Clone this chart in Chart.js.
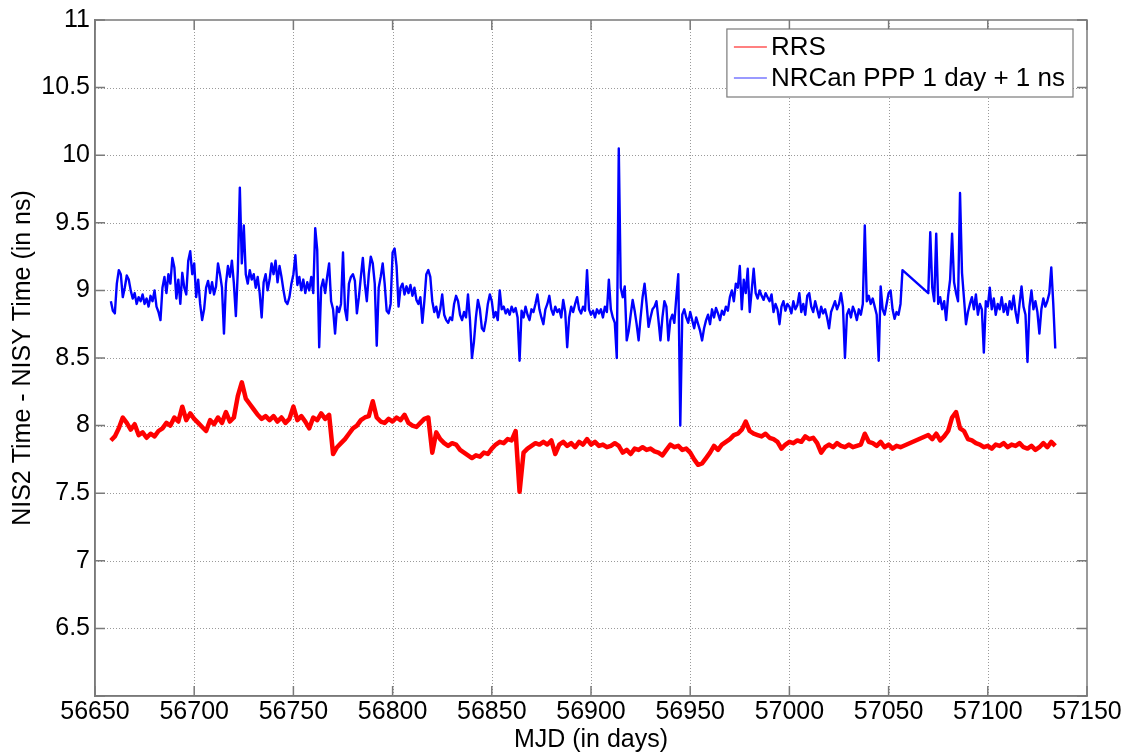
<!DOCTYPE html>
<html>
<head>
<meta charset="utf-8">
<script src="https://cdn.jsdelivr.net/npm/chart.js@4"></script>
<style>
  html, body { margin: 0; padding: 0; background: #fff; }
</style>
</head>
<body>
<canvas id="mjdChart" width="1131" height="756"></canvas>
<script>
/* NIS2 - NISY time comparison, RRS vs NRCan PPP */

const seriesNames = ['RRS', 'NRCan PPP 1 day + 1 ns'];
const xTitle = 'MJD (in days)';
const yTitle = 'NIS2 Time - NISY Time (in ns)';

// RRS: one value every 2 days, two stretches (data gap 57057 -> 57070)
const rrsStartA = 56658;
const rrsA = [
  7.89, 7.92, 7.98, 8.06, 8.02, 7.97, 8.01, 7.93, 7.95, 7.91,
  7.94, 7.92, 7.96, 7.98, 8.02, 8.00, 8.06, 8.03, 8.14, 8.04,
  8.09, 8.05, 8.02, 7.99, 7.96, 8.04, 8.01, 8.06, 8.02, 8.10,
  8.03, 8.06, 8.22, 8.32, 8.20, 8.16, 8.12, 8.08, 8.05, 8.07,
  8.04, 8.07, 8.03, 8.06, 8.02, 8.05, 8.14, 8.04, 8.07, 8.03,
  7.98, 8.06, 8.04, 8.09, 8.05, 8.08, 7.79, 7.84, 7.87, 7.90,
  7.94, 7.98, 8.00, 8.04, 8.06, 8.07, 8.18, 8.06, 8.03, 8.02,
  8.05, 8.03, 8.06, 8.04, 8.08, 8.02, 8.00, 7.99, 8.02, 8.05,
  8.06, 7.80, 7.95, 7.90, 7.87, 7.85, 7.87, 7.86, 7.82, 7.80,
  7.78, 7.76, 7.78, 7.77, 7.80, 7.79, 7.83, 7.86, 7.88, 7.87,
  7.90, 7.89, 7.96, 7.51, 7.80, 7.83, 7.85, 7.87, 7.86, 7.88,
  7.86, 7.89, 7.79, 7.86, 7.88, 7.85, 7.87, 7.84, 7.88, 7.86,
  7.90, 7.86, 7.88, 7.85, 7.86, 7.84, 7.85, 7.87, 7.85, 7.80,
  7.82, 7.79, 7.83, 7.82, 7.84, 7.82, 7.83, 7.81, 7.80, 7.78,
  7.82, 7.86, 7.84, 7.85, 7.82, 7.83, 7.80, 7.75, 7.71, 7.72,
  7.76, 7.80, 7.85, 7.82, 7.86, 7.88, 7.90, 7.93, 7.94, 7.97,
  8.03, 7.96, 7.94, 7.93, 7.92, 7.94, 7.91, 7.90, 7.88, 7.83,
  7.86, 7.88, 7.87, 7.89, 7.88, 7.92, 7.90, 7.91, 7.87, 7.80,
  7.84, 7.86, 7.84, 7.87, 7.85, 7.84, 7.86, 7.84, 7.85, 7.86,
  7.94, 7.88, 7.87, 7.85, 7.88, 7.84, 7.86, 7.83, 7.85, 7.84
];
const rrsStartB = 57070;
const rrsB = [
  7.93, 7.90, 7.94, 7.89, 7.92, 7.96, 8.06, 8.10, 7.98, 7.96,
  7.90, 7.89, 7.87, 7.86, 7.84, 7.85, 7.83, 7.86, 7.85, 7.87,
  7.84, 7.86, 7.85, 7.87, 7.84, 7.83, 7.85, 7.82, 7.84, 7.87,
  7.84, 7.88, 7.85
];

// NRCan PPP (+1 ns): one value per day, two stretches
const pppStartA = 56658;
const pppA = [
  8.92, 8.85, 8.83, 9.05, 9.15, 9.12, 8.95, 9.02, 9.11, 9.08,
  9.00, 8.94, 8.98, 8.90, 8.95, 8.92, 8.97, 8.90, 8.94, 8.88,
  8.96, 8.92, 9.00, 8.88, 8.84, 8.78, 9.02, 9.10, 8.98, 9.12,
  9.05, 9.24, 9.17, 8.94, 9.08, 8.90, 9.13, 9.02, 8.97, 9.22,
  9.29, 9.12, 9.20, 8.95, 9.08, 8.90, 8.78, 8.86, 9.02, 9.07,
  8.98, 9.06, 8.97, 9.03, 9.20, 9.12, 9.02, 8.68, 9.05, 9.18,
  9.10, 9.22, 9.05, 8.81, 9.15, 9.76, 9.20, 9.48, 9.12, 9.05,
  9.15, 9.08, 9.12, 9.02, 9.10, 8.98, 8.80, 9.06, 9.12, 9.00,
  9.08, 9.20, 9.12, 9.22, 9.06, 9.18, 9.10, 9.00, 8.92, 8.90,
  8.95, 9.05, 9.12, 9.26, 9.04, 9.10, 9.00, 9.08, 8.98, 9.06,
  9.00, 9.10, 8.98, 9.46, 9.30, 8.58, 9.02, 9.08, 8.98, 9.10,
  9.20, 8.92, 8.86, 8.68, 8.88, 8.84, 8.90, 9.28, 8.86, 8.78,
  9.05, 9.10, 9.12, 9.07, 8.83, 8.95, 9.10, 9.24, 9.05, 8.92,
  9.12, 9.25, 9.20, 9.05, 8.59, 9.02, 9.10, 9.20, 9.05, 8.85,
  8.83, 8.90, 9.28, 9.31, 9.18, 8.88, 9.02, 9.05, 8.97, 9.03,
  8.98, 9.04, 8.96, 9.02, 8.93, 8.90, 8.95, 8.76, 8.92, 9.12,
  9.15, 9.10, 8.92, 8.84, 8.88, 8.80, 8.86, 8.97, 8.82, 8.78,
  8.76, 8.80, 8.78, 8.90, 8.96, 8.92, 8.82, 8.78, 8.84, 8.80,
  8.97, 8.78, 8.50, 8.62, 8.80, 8.93, 8.86, 8.72, 8.70, 8.78,
  8.90, 8.97, 8.92, 8.80, 8.84, 8.78, 9.00, 8.86, 8.88, 8.83,
  8.86, 8.82, 8.88, 8.84, 8.87, 8.80, 8.48, 8.85, 8.80, 8.88,
  8.82, 8.78, 8.86, 8.84, 8.90, 8.97, 8.86, 8.80, 8.75, 8.86,
  8.90, 8.96, 8.86, 8.82, 8.88, 8.84, 8.86, 8.80, 8.93, 8.84,
  8.58, 8.80, 8.88, 8.84, 8.90, 8.95, 8.86, 8.83, 8.88, 8.85,
  9.15, 8.86, 8.82, 8.85, 8.80, 8.86, 8.83, 8.86, 8.80, 8.88,
  8.84, 9.08, 8.86, 8.80, 8.76, 8.50, 10.05, 9.02, 8.95, 9.03,
  8.63, 8.70, 8.82, 8.93, 8.85, 8.75, 8.63, 8.80, 8.95, 9.05,
  8.90, 8.73, 8.80, 8.86, 8.88, 8.92, 8.78, 8.63, 8.80, 8.92,
  8.88, 8.63, 8.78, 8.82, 8.76, 8.95, 9.12, 8.00, 8.82, 8.86,
  8.80, 8.76, 8.84, 8.78, 8.72, 8.80, 8.75, 8.70, 8.63, 8.72,
  8.78, 8.82, 8.75, 8.86, 8.80, 8.87, 8.83, 8.78, 8.85, 8.82,
  8.88, 8.85, 8.95, 9.00, 8.92, 9.05, 9.02, 9.18, 8.86, 9.08,
  8.98, 9.16, 8.84, 9.00, 9.16, 8.98, 8.94, 9.00, 8.96, 8.93,
  8.98, 8.95, 8.92, 8.97, 8.84, 8.90, 8.86, 8.75, 8.88, 8.92,
  8.85, 8.90, 8.88, 8.83, 8.92, 8.86, 8.89, 8.98, 8.84, 8.90,
  8.82, 8.96, 8.98, 8.88, 8.84, 8.92, 8.86, 8.80, 8.88, 8.83,
  8.86, 8.80, 8.72, 8.84, 8.88, 8.92, 8.86, 8.90, 8.98, 8.88,
  8.50, 8.82, 8.86, 8.80, 8.88, 8.84, 8.78, 8.86, 8.82, 8.90,
  9.48, 8.92, 8.96, 8.90, 8.94, 8.88, 8.82, 8.48, 9.03, 8.86,
  8.82, 8.90, 8.98, 9.00, 8.86, 8.79, 8.84, 8.82, 8.90, 9.15
];
const pppStartB = 57070;
const pppB = [
  8.98, 9.43, 9.02, 8.92, 9.42, 8.90, 8.95, 8.86, 8.92, 8.78,
  8.96, 9.08, 9.42, 9.06, 8.98, 8.92, 9.72, 9.13, 8.94, 8.75,
  8.84, 8.90, 8.95, 8.86, 8.97, 8.82, 8.90, 8.86, 8.54, 8.92,
  8.88, 9.02, 8.86, 8.94, 8.82, 8.90, 8.86, 8.95, 8.84, 8.90,
  8.82, 8.92, 8.86, 8.96, 8.84, 8.76, 8.90, 9.03, 8.88, 8.82,
  8.47, 8.88, 9.00, 8.86, 8.92, 8.84, 8.68, 8.86, 8.94, 8.88,
  8.92, 8.98, 9.17, 8.90, 8.57
];

function toPoints(startDay, step, values) {
  return values.map((v, i) => ({ x: startDay + i * step, y: v }));
}

const rrsPoints = toPoints(rrsStartA, 2, rrsA).concat(toPoints(rrsStartB, 2, rrsB));
const pppPoints = toPoints(pppStartA, 1, pppA).concat(toPoints(pppStartB, 1, pppB));

const FONT = '"Liberation Sans", Arial, Helvetica, sans-serif';
const AXIS_GREY = '#7a7a7a';

// dotted grid drawn by hand (MATLAB "grid on" look)
const dottedGrid = {
  id: 'dottedGrid',
  beforeDatasetsDraw(chart) {
    const { ctx, chartArea: a, scales: { x, y } } = chart;
    ctx.save();
    ctx.strokeStyle = '#9a9a9a';
    ctx.lineWidth = 1;
    ctx.setLineDash([1, 2]);
    ctx.beginPath();
    x.ticks.forEach(t => {
      const px = Math.round(x.getPixelForValue(t.value)) + 0.5;
      if (px < a.left + 2 || px > a.right - 2) return;
      ctx.moveTo(px, a.top); ctx.lineTo(px, a.bottom);
    });
    y.ticks.forEach(t => {
      const py = Math.round(y.getPixelForValue(t.value)) + 0.5;
      if (py < a.top + 2 || py > a.bottom - 2) return;
      ctx.moveTo(a.left, py); ctx.lineTo(a.right, py);
    });
    ctx.stroke();
    ctx.restore();
  }
};

// box, inward ticks and in-plot legend
const matlabFrame = {
  id: 'matlabFrame',
  afterDraw(chart) {
    const { ctx, chartArea: a, scales: { x, y } } = chart;
    ctx.save();
    ctx.strokeStyle = AXIS_GREY;
    ctx.lineWidth = 1.5;
    ctx.strokeRect(a.left, a.top, a.right - a.left, a.bottom - a.top);
    ctx.beginPath();
    x.ticks.forEach(t => {
      const px = x.getPixelForValue(t.value);
      ctx.moveTo(px, a.bottom); ctx.lineTo(px, a.bottom - 10);
      ctx.moveTo(px, a.top); ctx.lineTo(px, a.top + 10);
    });
    y.ticks.forEach(t => {
      const py = y.getPixelForValue(t.value);
      ctx.moveTo(a.left, py); ctx.lineTo(a.left + 10, py);
      ctx.moveTo(a.right, py); ctx.lineTo(a.right - 10, py);
    });
    ctx.stroke();

    // legend
    ctx.font = '26px ' + FONT;
    const textW = Math.max(...seriesNames.map(n => ctx.measureText(n).width));
    const boxTop = a.top + 9;
    const boxH = 68;
    const boxW = 44 + textW + 8;
    const boxLeft = a.right - 14 - boxW;
    ctx.fillStyle = '#fff';
    ctx.fillRect(boxLeft, boxTop, boxW, boxH);
    ctx.strokeStyle = AXIS_GREY;
    ctx.lineWidth = 1.2;
    ctx.strokeRect(boxLeft, boxTop, boxW, boxH);
    const legendColors = ['#ff8080', '#9a9aff'];
    seriesNames.forEach((name, i) => {
      const rowY = boxTop + 18 + i * 31;
      ctx.strokeStyle = legendColors[i];
      ctx.lineWidth = 2;
      ctx.beginPath();
      ctx.moveTo(boxLeft + 7, rowY);
      ctx.lineTo(boxLeft + 40, rowY);
      ctx.stroke();
      ctx.fillStyle = '#000';
      ctx.textBaseline = 'middle';
      ctx.textAlign = 'left';
      ctx.fillText(name, boxLeft + 44, rowY + 1);
    });
    ctx.restore();
  }
};

new Chart(document.getElementById('mjdChart').getContext('2d'), {
  type: 'line',
  data: {
    datasets: [{
      label: seriesNames[0],
      data: rrsPoints,
      borderColor: '#ff0000',
      borderWidth: 4.5,
      pointRadius: 0,
      tension: 0,
      borderJoinStyle: 'round'
    }, {
      label: seriesNames[1],
      data: pppPoints,
      borderColor: '#0000ff',
      borderWidth: 2.4,
      pointRadius: 0,
      tension: 0,
      borderJoinStyle: 'round'
    }]
  },
  options: {
    responsive: false,
    animation: false,
    events: [],
    layout: { padding: { left: 0, right: 44, top: 19, bottom: 0 } },
    plugins: {
      legend: { display: false },
      tooltip: { enabled: false }
    },
    scales: {
      x: {
        type: 'linear',
        min: 56650, max: 57150,
        afterFit: s => { s.height = 60; },
        ticks: {
          stepSize: 50,
          color: '#000',
          padding: 1,
          maxRotation: 0,
          font: { family: FONT, size: 25 },
          callback: v => String(v)
        },
        grid: { display: false, drawTicks: false },
        border: { display: true, color: AXIS_GREY, width: 1.5 },
        title: {
          display: true, text: xTitle, color: '#000',
          font: { family: FONT, size: 25 }, padding: { top: 0, bottom: 1 }
        }
      },
      y: {
        type: 'linear',
        min: 6, max: 11,
        afterFit: s => { s.width = 95; },
        ticks: {
          stepSize: 0.5,
          color: '#000',
          padding: 5,
          font: { family: FONT, size: 25 },
          // bottom label is not shown in the original (it would hit 56650)
          callback: v => (v === 6 ? '' : String(v))
        },
        grid: { display: false, drawTicks: false },
        border: { display: true, color: AXIS_GREY, width: 1.5 },
        title: {
          display: true, text: yTitle, color: '#000',
          font: { family: FONT, size: 25 }, padding: { top: 8, bottom: 0 }
        }
      }
    }
  },
  plugins: [dottedGrid, matlabFrame]
});
</script>
</body>
</html>
